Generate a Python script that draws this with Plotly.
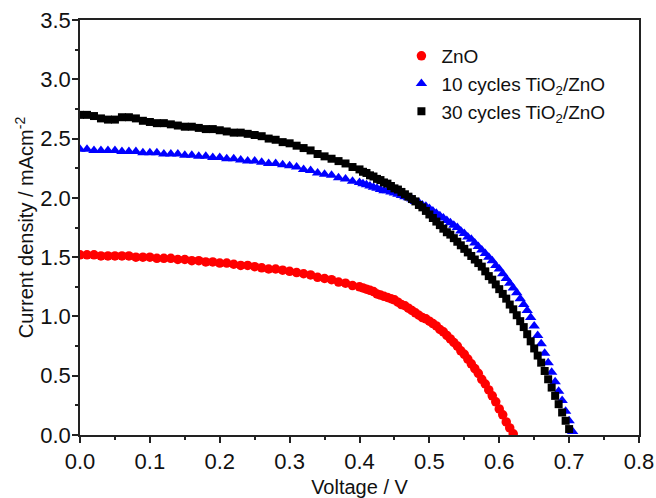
import numpy as np
import plotly.graph_objects as go

# Voltage sweep grid (V): 0.01 V steps up to 0.40 V, 0.005 V steps after
V_coarse = np.round(np.arange(0.0, 0.4001, 0.01), 3)

# ZnO (red circles)
zno_coarse = [1.52, 1.52, 1.52, 1.51, 1.51, 1.51, 1.51, 1.51, 1.50, 1.50,
              1.50, 1.49, 1.49, 1.49, 1.48, 1.48, 1.47, 1.47, 1.46, 1.46,
              1.45, 1.45, 1.44, 1.43, 1.43, 1.42, 1.41, 1.40, 1.40, 1.39,
              1.38, 1.37, 1.36, 1.35, 1.33, 1.32, 1.31, 1.29, 1.28, 1.26,
              1.25]
zno_fine = [1.24, 1.23, 1.22, 1.21, 1.19, 1.18, 1.17, 1.16, 1.15, 1.14,
            1.12, 1.10, 1.09, 1.07, 1.05, 1.03, 1.01, 0.99, 0.98, 0.96,
            0.94, 0.92, 0.89, 0.87, 0.84, 0.81, 0.78, 0.75, 0.71, 0.68,
            0.64, 0.60, 0.56, 0.52, 0.47, 0.43, 0.38, 0.33, 0.28, 0.22,
            0.17, 0.11, 0.06, 0.01]

# 10 cycles TiO2/ZnO (blue triangles)
t10_coarse = [2.41, 2.41, 2.40, 2.40, 2.40, 2.40, 2.39, 2.39, 2.39, 2.38,
              2.38, 2.38, 2.37, 2.37, 2.37, 2.36, 2.36, 2.35, 2.35, 2.34,
              2.34, 2.33, 2.33, 2.32, 2.31, 2.31, 2.30, 2.29, 2.29, 2.28,
              2.27, 2.26, 2.24, 2.23, 2.21, 2.20, 2.19, 2.17, 2.16, 2.14,
              2.13]
t10_fine = [2.12, 2.11, 2.10, 2.09, 2.08, 2.07, 2.06, 2.06, 2.05, 2.04,
            2.03, 2.02, 2.01, 2.00, 1.99, 1.97, 1.96, 1.94, 1.93, 1.91,
            1.89, 1.87, 1.85, 1.83, 1.81, 1.79, 1.77, 1.75, 1.72, 1.70,
            1.67, 1.65, 1.62, 1.59, 1.56, 1.53, 1.50, 1.47, 1.43, 1.40,
            1.36, 1.32, 1.28, 1.24, 1.20, 1.15, 1.10, 1.05, 0.99, 0.92,
            0.84, 0.77, 0.69, 0.61, 0.53, 0.45, 0.37, 0.29, 0.20, 0.12,
            0.03]

# 30 cycles TiO2/ZnO (black squares)
t30_coarse = [2.70, 2.70, 2.69, 2.67, 2.66, 2.66, 2.68, 2.68, 2.67, 2.65,
              2.64, 2.63, 2.63, 2.62, 2.61, 2.60, 2.60, 2.59, 2.58, 2.58,
              2.57, 2.56, 2.55, 2.55, 2.54, 2.53, 2.52, 2.50, 2.49, 2.47,
              2.46, 2.44, 2.42, 2.40, 2.37, 2.35, 2.33, 2.31, 2.29, 2.26,
              2.24]
t30_fine = [2.22, 2.21, 2.19, 2.18, 2.16, 2.15, 2.13, 2.12, 2.10, 2.08,
            2.07, 2.05, 2.03, 2.01, 1.99, 1.97, 1.94, 1.92, 1.89, 1.86,
            1.83, 1.80, 1.77, 1.74, 1.71, 1.69, 1.66, 1.63, 1.60, 1.57,
            1.54, 1.51, 1.48, 1.45, 1.42, 1.38, 1.34, 1.31, 1.27, 1.23,
            1.19, 1.15, 1.10, 1.06, 1.01, 0.96, 0.91, 0.85, 0.79, 0.73,
            0.67, 0.61, 0.54, 0.47, 0.40, 0.33, 0.26, 0.19, 0.12, 0.05]

x_ticks = [0, 0.1, 0.2, 0.3, 0.4, 0.5, 0.6, 0.7, 0.8]
x_labels = ["0.0", "0.1", "0.2", "0.3", "0.4", "0.5", "0.6", "0.7", "0.8"]
y_ticks = [0, 0.5, 1.0, 1.5, 2.0, 2.5, 3.0, 3.5]
y_labels = ["0.0", "0.5", "1.0", "1.5", "2.0", "2.5", "3.0", "3.5"]

def fine_grid(n):
    return np.round(0.405 + 0.005 * np.arange(n), 3)

series = [
    ("ZnO", zno_coarse, zno_fine, "circle", 9.5, "#ff0000"),
    ("10 cycles TiO<sub>2</sub>/ZnO", t10_coarse, t10_fine, "triangle-up", 10, "#0000ff"),
    ("30 cycles TiO<sub>2</sub>/ZnO", t30_coarse, t30_fine, "square", 8, "#000000"),
]

FONT = "Liberation Sans, Arial, sans-serif"

fig = go.Figure()
for name, yc, yf, sym, size, col in series:
    x = np.concatenate([V_coarse, fine_grid(len(yf))])
    y = np.array(yc + yf)
    fig.add_trace(go.Scatter(
        x=x, y=y, mode="markers", name=name,
        marker=dict(symbol=sym, size=size, color=col, line=dict(width=0)),
    ))

axis_common = dict(
    showline=True, linecolor="#222222", linewidth=1.5, mirror=True,
    ticks="outside", ticklen=6, tickwidth=1.5, tickcolor="#222222",
    showgrid=False, zeroline=False, automargin=False,
    tickfont=dict(family=FONT, size=22, color="#111111"),
)

fig.update_layout(
    width=656, height=498,
    margin=dict(l=80, r=17, t=20, b=63),
    paper_bgcolor="white", plot_bgcolor="white",
    showlegend=True,
    legend=dict(x=0.575, y=0.959, xanchor="left", yanchor="top",
                font=dict(family=FONT, size=19, color="#111111"),
                bgcolor="rgba(0,0,0,0)", tracegroupgap=0),
    xaxis=dict(range=[0, 0.8], tickvals=x_ticks, ticktext=x_labels,
               minor=dict(dtick=0.05, ticks="outside", ticklen=3.5, tickwidth=1.5, tickcolor="#222222"),
               title=dict(text="Voltage / V", font=dict(family=FONT, size=20, color="#111111"), standoff=10),
               **axis_common),
    yaxis=dict(range=[0, 3.5], tickvals=y_ticks, ticktext=y_labels,
               ticklabelstandoff=-3,
               minor=dict(dtick=0.25, ticks="outside", ticklen=3.5, tickwidth=1.5, tickcolor="#222222"),
               title=dict(text="Current density / mAcm<sup>-2</sup>", font=dict(family=FONT, size=20, color="#111111"), standoff=1),
               **axis_common),
)

fig.write_html(
    "out.html",
    config={"displayModeBar": False},
    post_script="document.body.style.margin='0';document.body.style.overflow='hidden';document.documentElement.style.overflow='hidden';",
)
